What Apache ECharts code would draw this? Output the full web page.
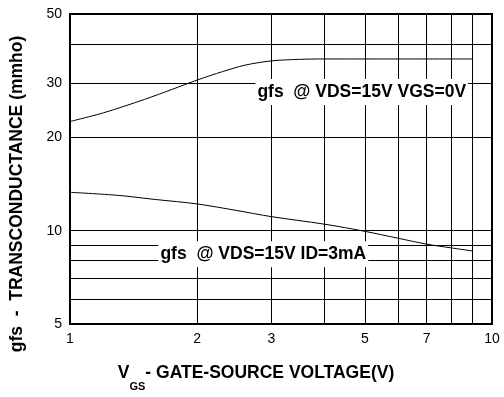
<!DOCTYPE html>
<html>
<head>
<meta charset="utf-8">
<script src="https://cdn.jsdelivr.net/npm/echarts@6/dist/echarts.min.js"></script>
<style>
  html, body { margin: 0; padding: 0; background: #fff; }
  #main { width: 504px; height: 397px; }
</style>
</head>
<body>
<div id="main"></div>
<script>
// gate-source voltage (V) and transconductance (mmho)
var vgsIdss = [1, 1.2, 1.5, 1.75, 2, 2.3, 2.6, 3, 3.5, 4, 5, 6, 7, 8, 9];
var gfsIdss = [22.5, 24, 26.5, 28.6, 30.6, 32.6, 34.2, 35.3, 35.7, 35.8, 35.8, 35.8, 35.8, 35.8, 35.8];

var vgs3mA = [1, 1.3, 1.6, 2, 2.5, 3, 4, 5, 6, 7, 8, 9];
var gfs3mA = [13.3, 13.0, 12.6, 12.2, 11.6, 11.1, 10.5, 9.95, 9.45, 9.05, 8.8, 8.6];

var xGrid = [1, 2, 3, 4, 5, 6, 7, 8, 9, 10];
var xLabels = [1, 2, 3, 5, 7, 10];
var yGrid = [5, 6, 7, 8, 9, 10, 20, 30, 40, 50];
var yLabels = [5, 10, 20, 30, 50];

var labelIdss = 'gfs  @ VDS=15V VGS=0V';
var label3mA = 'gfs  @ VDS=15V ID=3mA';

function pairs(xs, ys) {
	var out = [];
	for (var i = 0; i < xs.length; i++) out.push([xs[i], ys[i]]);
	return out;
}

var FONT = '"Liberation Sans", Arial, sans-serif';

var noteStyle = {
	show: true,
	position: 'right',
	distance: 0,
	color: '#000',
	fontFamily: FONT,
	fontWeight: 'bold',
	fontSize: 17.5,
	backgroundColor: '#fff',
	padding: [4, 2, 4, 2]
};

var myChart = echarts.init(document.getElementById('main'), null, { renderer: 'canvas' });
var option = {
	animation: false,
	backgroundColor: '#fff',
	grid: {
		left: 70, right: 12, top: 14, bottom: 62,
		show: true, borderColor: '#000', borderWidth: 2
	},
	xAxis: {
		type: 'log',
		logBase: 10,
		min: 1,
		max: 10,
		name: '{a|V}{b|GS}{a|- GATE-SOURCE VOLTAGE(V)}',
		nameLocation: 'middle',
		nameGap: 40,
		nameTextStyle: {
			padding: [0, 50, 0, 0],
			rich: {
				a: { fontFamily: FONT, fontWeight: 'bold', fontSize: 17.5, color: '#000', lineHeight: 20, verticalAlign: 'top' },
				b: { fontFamily: FONT, fontWeight: 'bold', fontSize: 11, color: '#000', lineHeight: 12, padding: [17, 0, 0, 0], verticalAlign: 'top' }
			}
		},
		axisLine: { show: false },
		axisTick: { show: false, customValues: xGrid },
		axisLabel: {
			customValues: xLabels,
			margin: 8,
			color: '#000',
			fontFamily: FONT,
			fontSize: 14
		},
		splitLine: { show: true, lineStyle: { color: '#000', width: 1 } }
	},
	yAxis: {
		type: 'log',
		logBase: 10,
		min: 5,
		max: 50,
		name: 'gfs  -  TRANSCONDUCTANCE (mmho)',
		nameLocation: 'middle',
		nameRotate: 90,
		nameGap: 44,
		nameTextStyle: {
			padding: [0, 50, 0, 0],
			color: '#000',
			fontFamily: FONT,
			fontWeight: 'bold',
			fontSize: 17.5
		},
		axisLine: { show: false },
		axisTick: { show: false, customValues: yGrid },
		axisLabel: {
			customValues: yLabels,
			margin: 8,
			color: '#000',
			fontFamily: FONT,
			fontSize: 14
		},
		splitLine: { show: true, lineStyle: { color: '#000', width: 1 } }
	},
	series: [
		{
			name: 'VGS=0V',
			type: 'line',
			data: pairs(vgsIdss, gfsIdss),
			smooth: 0.3,
			showSymbol: false,
			lineStyle: { color: '#000', width: 1 },
			markPoint: {
				symbol: 'rect',
				symbolSize: 0,
				data: [{ coord: [2.75, 28], label: Object.assign({ formatter: labelIdss }, noteStyle) }]
			}
		},
		{
			name: 'ID=3mA',
			type: 'line',
			data: pairs(vgs3mA, gfs3mA),
			smooth: 0.3,
			showSymbol: false,
			lineStyle: { color: '#000', width: 1 },
			markPoint: {
				symbol: 'rect',
				symbolSize: 0,
				data: [{ coord: [1.62, 8.4], label: Object.assign({ formatter: label3mA }, noteStyle) }]
			}
		}
	]
};
myChart.setOption(option);
</script>
</body>
</html>
